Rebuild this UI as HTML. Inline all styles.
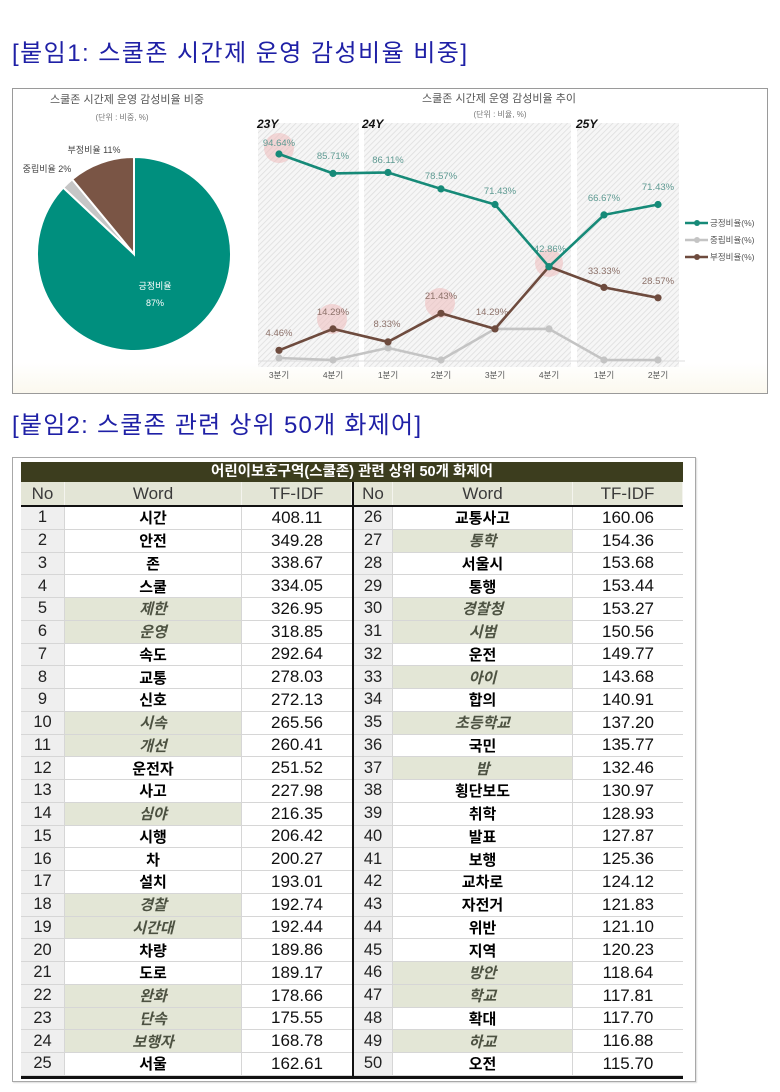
<!DOCTYPE html>
<html><head><meta charset="utf-8">
<style>
html,body{margin:0;padding:0;background:#fff;}
body{width:780px;height:1092px;position:relative;overflow:hidden;font-family:"Liberation Sans","Noto Sans CJK KR",sans-serif;}
.abs{position:absolute;}
.g{position:absolute;display:grid;grid-auto-rows:22.76px;}
.g div{display:flex;align-items:center;justify-content:center;border-bottom:1.6px solid #d6d6d6;box-sizing:border-box;color:#111;white-space:nowrap;}
.g .n{background:#efefef;border-right:1.6px solid #d6d6d6;font-size:16.5px;color:#222;}
.g .w{font-family:"Noto Sans CJK KR",sans-serif;font-weight:bold;font-size:15px;border-right:1.6px solid #d6d6d6;color:#000;}
.g .w.h{background:#e3e6d6;font-style:italic;font-weight:bold;color:#4d5242;}
.g .v{font-size:17px;}
.hd{position:absolute;top:482px;height:23px;display:grid;background:#e3e5d6;}
.hd div{display:flex;align-items:center;justify-content:center;font-size:17px;color:#3a3a3a;border-right:1.5px solid #f4f4ee;}
</style></head>
<body>
<svg class="abs" style="left:0;top:0" width="780" height="445" viewBox="0 0 780 445">
<defs>
<pattern id="hat" width="4" height="4" patternUnits="userSpaceOnUse" patternTransform="rotate(45)">
<rect width="4" height="4" fill="#f6f6f6"/>
<line x1="0" y1="0" x2="0" y2="4" stroke="#dedede" stroke-width="1.6"/>
</pattern>
<linearGradient id="bg" x1="0" y1="0" x2="0" y2="1">
<stop offset="0.9" stop-color="#ffffff"/><stop offset="1" stop-color="#fbf8ee"/>
</linearGradient>
</defs>
<text x="12" y="61" font-size="24" fill="#1f20a6" font-family="Liberation Sans, Noto Sans CJK KR, sans-serif" textLength="455" lengthAdjust="spacing">[붙임1: 스쿨존 시간제 운영 감성비율 비중]</text>
<text x="12" y="433" font-size="24" fill="#1f20a6" font-family="Liberation Sans, Noto Sans CJK KR, sans-serif" textLength="409" lengthAdjust="spacing">[붙임2: 스쿨존 관련 상위 50개 화제어]</text>

<rect x="12.5" y="88.5" width="755" height="305" fill="url(#bg)" stroke="#9a9a9a" stroke-width="1"/>

<!-- pie -->
<text x="127" y="103" font-size="11" fill="#555" text-anchor="middle" font-family="Liberation Sans, Noto Sans CJK KR, sans-serif">스쿨존 시간제 운영 감성비율 비중</text>
<text x="122" y="120" font-size="8" fill="#777" text-anchor="middle" font-family="Liberation Sans, Noto Sans CJK KR, sans-serif">(단위 : 비중, %)</text>
<path d="M134,254 L134,157 A97,97 0 1,1 63.29,187.60 Z" fill="#008f7e" stroke="#fff" stroke-width="2"/>
<path d="M134,254 L63.29,187.60 A97,97 0 0,1 72.17,179.26 Z" fill="#c6c6c6" stroke="#fff" stroke-width="2"/>
<path d="M134,254 L72.17,179.26 A97,97 0 0,1 134,157 Z" fill="#7a5545" stroke="#fff" stroke-width="2"/>
<text x="94" y="153" font-size="9" fill="#444" text-anchor="middle" font-family="Liberation Sans, Noto Sans CJK KR, sans-serif">부정비율 11%</text>
<text x="47" y="172" font-size="9" fill="#444" text-anchor="middle" font-family="Liberation Sans, Noto Sans CJK KR, sans-serif">중립비율 2%</text>
<text x="155" y="289" font-size="9" fill="#fff" text-anchor="middle" font-family="Liberation Sans, Noto Sans CJK KR, sans-serif">긍정비율</text>
<text x="155" y="306" font-size="9" fill="#fff" text-anchor="middle" font-family="Liberation Sans, Noto Sans CJK KR, sans-serif">87%</text>

<!-- line chart -->
<text x="499" y="102" font-size="11" fill="#555" text-anchor="middle" font-family="Liberation Sans, Noto Sans CJK KR, sans-serif">스쿨존 시간제 운영 감성비율 추이</text>
<text x="500" y="117" font-size="8" fill="#777" text-anchor="middle" font-family="Liberation Sans, Noto Sans CJK KR, sans-serif">(단위 : 비율, %)</text>
<rect x="258" y="123" width="101" height="244" fill="url(#hat)"/>
<rect x="364" y="123" width="207" height="244" fill="url(#hat)"/>
<rect x="577" y="123" width="102" height="244" fill="url(#hat)"/>
<text x="257" y="128" font-size="12" font-weight="bold" font-style="italic" fill="#111">23Y</text>
<text x="362" y="128" font-size="12" font-weight="bold" font-style="italic" fill="#111">24Y</text>
<text x="576" y="128" font-size="12" font-weight="bold" font-style="italic" fill="#111">25Y</text>
<line x1="258" y1="361" x2="685" y2="361" stroke="#dcdcdc" stroke-width="1"/>

<circle cx="279" cy="148" r="15" fill="#eebcbc" opacity="0.55"/>
<circle cx="332" cy="319" r="15" fill="#eebcbc" opacity="0.55"/>
<circle cx="440" cy="303" r="15" fill="#eebcbc" opacity="0.55"/>
<circle cx="549" cy="263" r="14" fill="#eebcbc" opacity="0.55"/>

<g font-family="Liberation Sans, sans-serif" font-size="9.5" text-anchor="middle">
<g fill="#5f9b93">
<text x="279" y="146">94.64%</text>
<text x="333" y="159">85.71%</text>
<text x="388" y="163">86.11%</text>
<text x="441" y="179">78.57%</text>
<text x="500" y="194">71.43%</text>
<text x="550" y="252">42.86%</text>
<text x="604" y="201">66.67%</text>
<text x="658" y="190">71.43%</text>
</g>
<g fill="#8d726a">
<text x="279" y="336">4.46%</text>
<text x="333" y="315">14.29%</text>
<text x="387" y="327">8.33%</text>
<text x="441" y="299">21.43%</text>
<text x="492" y="315">14.29%</text>
<text x="604" y="274">33.33%</text>
<text x="658" y="284">28.57%</text>
</g>
</g>

<polyline points="279,358 333,360 388,347.9 441,360 495,328.9 549,328.9 604,360 658,360" fill="none" stroke="#c4c4c4" stroke-width="2.6"/>
<g fill="#c4c4c4"><circle cx="279" cy="358" r="3.6"/><circle cx="333" cy="360" r="3.6"/><circle cx="388" cy="347.9" r="3.6"/><circle cx="441" cy="360" r="3.6"/><circle cx="495" cy="328.9" r="3.6"/><circle cx="549" cy="328.9" r="3.6"/><circle cx="604" cy="360" r="3.6"/><circle cx="658" cy="360" r="3.6"/></g>

<polyline points="279,350.3 333,328.9 388,341.9 441,313.3 495,328.9 549,266.7 604,287.4 658,297.8" fill="none" stroke="#6e4b3e" stroke-width="2.6"/>
<g fill="#6e4b3e"><circle cx="279" cy="350.3" r="3.6"/><circle cx="333" cy="328.9" r="3.6"/><circle cx="388" cy="341.9" r="3.6"/><circle cx="441" cy="313.3" r="3.6"/><circle cx="495" cy="328.9" r="3.6"/><circle cx="549" cy="266.7" r="3.6"/><circle cx="604" cy="287.4" r="3.6"/><circle cx="658" cy="297.8" r="3.6"/></g>

<polyline points="279,154 333,173.4 388,172.5 441,188.9 495,204.5 549,266.7 604,214.9 658,204.5" fill="none" stroke="#168a78" stroke-width="2.6"/>
<g fill="#168a78"><circle cx="279" cy="154" r="3.6"/><circle cx="333" cy="173.4" r="3.6"/><circle cx="388" cy="172.5" r="3.6"/><circle cx="441" cy="188.9" r="3.6"/><circle cx="495" cy="204.5" r="3.6"/><circle cx="549" cy="266.7" r="3.6"/><circle cx="604" cy="214.9" r="3.6"/><circle cx="658" cy="204.5" r="3.6"/></g>

<g font-family="Liberation Sans, Noto Sans CJK KR, sans-serif" font-size="8.5" fill="#555" text-anchor="middle">
<text x="279" y="378">3분기</text>
<text x="333" y="378">4분기</text>
<text x="388" y="378">1분기</text>
<text x="441" y="378">2분기</text>
<text x="495" y="378">3분기</text>
<text x="549" y="378">4분기</text>
<text x="604" y="378">1분기</text>
<text x="658" y="378">2분기</text>
</g>

<g font-family="Liberation Sans, Noto Sans CJK KR, sans-serif" font-size="8.5" fill="#555">
<line x1="685" y1="223" x2="708" y2="223" stroke="#168a78" stroke-width="2.6"/><circle cx="697" cy="223" r="3" fill="#168a78"/>
<text x="710" y="226">긍정비율(%)</text>
<line x1="685" y1="240" x2="708" y2="240" stroke="#c4c4c4" stroke-width="2.6"/><circle cx="697" cy="240" r="3" fill="#c4c4c4"/>
<text x="710" y="243">중립비율(%)</text>
<line x1="685" y1="257" x2="708" y2="257" stroke="#6e4b3e" stroke-width="2.6"/><circle cx="697" cy="257" r="3" fill="#6e4b3e"/>
<text x="710" y="260">부정비율(%)</text>
</g>
</svg>

<!-- table -->
<div class="abs" style="left:12px;top:457px;width:682px;height:623px;border:1px solid #a8a8a8;box-shadow:1px 1px 1px #ddd;"></div>
<div class="abs" style="left:21px;top:462px;width:662px;height:20px;background:#3c3d1e;color:#fff;font-family:'Liberation Sans','Noto Sans CJK KR',sans-serif;font-weight:bold;font-size:14.5px;line-height:20px;text-align:center;">어린이보호구역(스쿨존) 관련 상위 50개 화제어</div>

<div class="hd" style="left:21px;width:331px;grid-template-columns:44px 177px 110px;"><div>No</div><div>Word</div><div>TF-IDF</div></div>
<div class="hd" style="left:354px;width:329px;grid-template-columns:39px 180px 110px;"><div>No</div><div>Word</div><div>TF-IDF</div></div>

<div class="g" style="left:21px;top:507px;width:331px;grid-template-columns:44px 177px 110px;">
<div class="n">1</div><div class="w">시간</div><div class="v">408.11</div>
<div class="n">2</div><div class="w">안전</div><div class="v">349.28</div>
<div class="n">3</div><div class="w">존</div><div class="v">338.67</div>
<div class="n">4</div><div class="w">스쿨</div><div class="v">334.05</div>
<div class="n">5</div><div class="w h">제한</div><div class="v">326.95</div>
<div class="n">6</div><div class="w h">운영</div><div class="v">318.85</div>
<div class="n">7</div><div class="w">속도</div><div class="v">292.64</div>
<div class="n">8</div><div class="w">교통</div><div class="v">278.03</div>
<div class="n">9</div><div class="w">신호</div><div class="v">272.13</div>
<div class="n">10</div><div class="w h">시속</div><div class="v">265.56</div>
<div class="n">11</div><div class="w h">개선</div><div class="v">260.41</div>
<div class="n">12</div><div class="w">운전자</div><div class="v">251.52</div>
<div class="n">13</div><div class="w">사고</div><div class="v">227.98</div>
<div class="n">14</div><div class="w h">심야</div><div class="v">216.35</div>
<div class="n">15</div><div class="w">시행</div><div class="v">206.42</div>
<div class="n">16</div><div class="w">차</div><div class="v">200.27</div>
<div class="n">17</div><div class="w">설치</div><div class="v">193.01</div>
<div class="n">18</div><div class="w h">경찰</div><div class="v">192.74</div>
<div class="n">19</div><div class="w h">시간대</div><div class="v">192.44</div>
<div class="n">20</div><div class="w">차량</div><div class="v">189.86</div>
<div class="n">21</div><div class="w">도로</div><div class="v">189.17</div>
<div class="n">22</div><div class="w h">완화</div><div class="v">178.66</div>
<div class="n">23</div><div class="w h">단속</div><div class="v">175.55</div>
<div class="n">24</div><div class="w h">보행자</div><div class="v">168.78</div>
<div class="n">25</div><div class="w">서울</div><div class="v">162.61</div>
</div>

<div class="g" style="left:354px;top:507px;width:329px;grid-template-columns:39px 180px 110px;">
<div class="n">26</div><div class="w">교통사고</div><div class="v">160.06</div>
<div class="n">27</div><div class="w h">통학</div><div class="v">154.36</div>
<div class="n">28</div><div class="w">서울시</div><div class="v">153.68</div>
<div class="n">29</div><div class="w">통행</div><div class="v">153.44</div>
<div class="n">30</div><div class="w h">경찰청</div><div class="v">153.27</div>
<div class="n">31</div><div class="w h">시범</div><div class="v">150.56</div>
<div class="n">32</div><div class="w">운전</div><div class="v">149.77</div>
<div class="n">33</div><div class="w h">아이</div><div class="v">143.68</div>
<div class="n">34</div><div class="w">합의</div><div class="v">140.91</div>
<div class="n">35</div><div class="w h">초등학교</div><div class="v">137.20</div>
<div class="n">36</div><div class="w">국민</div><div class="v">135.77</div>
<div class="n">37</div><div class="w h">밤</div><div class="v">132.46</div>
<div class="n">38</div><div class="w">횡단보도</div><div class="v">130.97</div>
<div class="n">39</div><div class="w">취학</div><div class="v">128.93</div>
<div class="n">40</div><div class="w">발표</div><div class="v">127.87</div>
<div class="n">41</div><div class="w">보행</div><div class="v">125.36</div>
<div class="n">42</div><div class="w">교차로</div><div class="v">124.12</div>
<div class="n">43</div><div class="w">자전거</div><div class="v">121.83</div>
<div class="n">44</div><div class="w">위반</div><div class="v">121.10</div>
<div class="n">45</div><div class="w">지역</div><div class="v">120.23</div>
<div class="n">46</div><div class="w h">방안</div><div class="v">118.64</div>
<div class="n">47</div><div class="w h">학교</div><div class="v">117.81</div>
<div class="n">48</div><div class="w">확대</div><div class="v">117.70</div>
<div class="n">49</div><div class="w h">하교</div><div class="v">116.88</div>
<div class="n">50</div><div class="w">오전</div><div class="v">115.70</div>
</div>

<!-- thick lines -->
<div class="abs" style="left:21px;top:505px;width:662px;height:2px;background:#111;"></div>
<div class="abs" style="left:21px;top:1076px;width:662px;height:2.5px;background:#111;"></div>
<div class="abs" style="left:352px;top:482px;width:2px;height:596px;background:#111;"></div>
</body></html>
